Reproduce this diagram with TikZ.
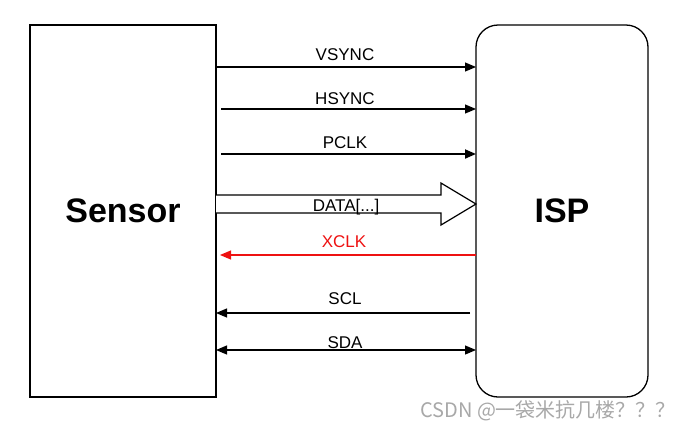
\documentclass[tikz,border=0pt]{standalone}
\usepackage{fontspec}
\setmainfont{Liberation Sans}
\newfontfamily\cjkfont{Noto Sans CJK SC}
\usetikzlibrary{arrows.meta}
\definecolor{wmgray}{HTML}{A8A8A8}
\definecolor{xred}{HTML}{EE1111}
\begin{document}
\begin{tikzpicture}[x=1pt,y=-1pt,
  blockbox/.style={draw=black,line width=1.3pt,minimum width=#1,inner sep=0pt,outer sep=0pt,font=\fontsize{34}{40}\selectfont\bfseries},
  sig/.style={line width=1.2pt,-{Triangle[length=11pt,width=9pt]}},
  bisig/.style={line width=1.2pt,{Triangle[length=11pt,width=9pt]}-{Triangle[length=11pt,width=9pt]}},
  lbl/.style={anchor=base,inner sep=0pt,font=\fontsize{17}{20}\selectfont}
]
\useasboundingbox (0,0) rectangle (681,429);
\node[blockbox=186pt,minimum height=372pt] (sensor) at (123,211) {Sensor};
\node[blockbox=172pt,minimum height=372pt,rounded corners=22pt] (isp) at (562,211) {ISP};
% VSYNC
\draw[sig] (sensor.east |- 0,67) -- (isp.west |- 0,67);
\node[lbl] (lv) at (345,60) {VSYNC};
% HSYNC
\coordinate (hs) at (221,109);
\draw[sig] (hs) -- (isp.west |- hs);
\node[lbl] (lh) at (345,104) {HSYNC};
% PCLK
\coordinate (pc) at (221,154);
\draw[sig,line width=1.8pt] (pc) -- (isp.west |- pc);
\node[lbl] (lp) at (345,148) {PCLK};
% DATA
\draw[line width=1.2pt,fill=white] (sensor.east |- 0,195) -- (441,195) -- (441,183) -- (isp.west |- 0,204) -- (441,225) -- (441,213) -- (sensor.east |- 0,213);
\node[lbl] (ld) at (346,211) {DATA[...]};
% XCLK
\coordinate (xc) at (220,255);
\draw[sig,draw=xred,fill=xred] (isp.west |- xc) -- (xc);
\node[lbl,text=xred] (lx) at (344,247) {XCLK};
% SCL
\coordinate (sc) at (470,313);
\draw[sig] (sc) -- (sensor.east |- sc);
\node[lbl] (ls) at (345,304) {SCL};
% SDA
\draw[bisig] (sensor.east |- 0,350) -- (isp.west |- 0,350);
\node[lbl] (la) at (345,348) {SDA};
% watermark
\node[anchor=west,inner sep=0pt,text=wmgray,font=\cjkfont\fontsize{20}{24}\selectfont] (wm) at (420,411) {CSDN @一袋米抗几楼？？？};
\end{tikzpicture}
\end{document}
